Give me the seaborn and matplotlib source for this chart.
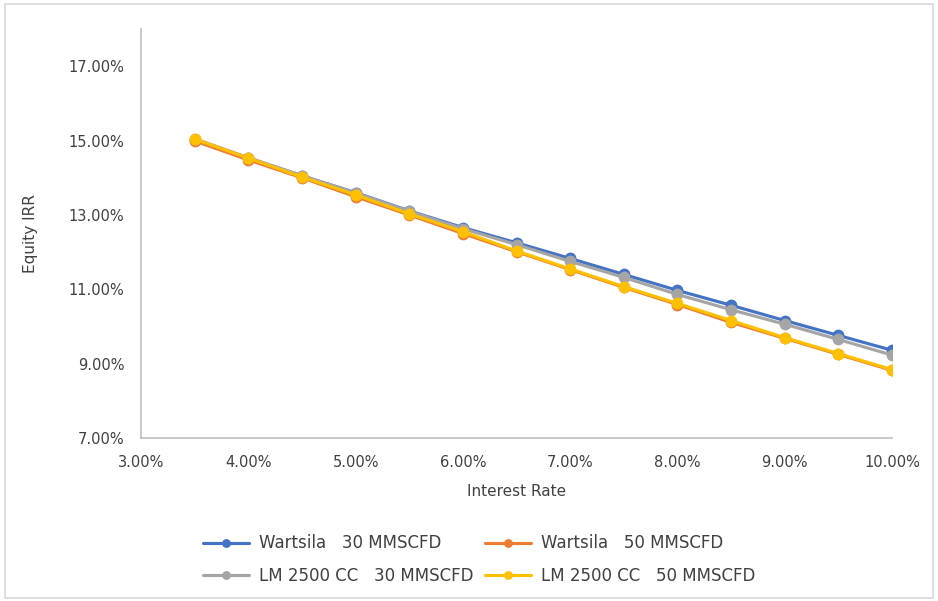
import pandas as pd
import matplotlib.pyplot as plt
import matplotlib.ticker as mtick
import seaborn as sns

rates = [0.035, 0.040, 0.045, 0.050, 0.055, 0.060, 0.065,
         0.070, 0.075, 0.080, 0.085, 0.090, 0.095, 0.100]

wartsila_30 = [15.02, 14.53, 14.05, 13.60, 13.11, 12.66, 12.25,
               11.83, 11.40, 10.97, 10.57, 10.16, 9.76, 9.36]
wartsila_50 = [14.99, 14.48, 14.00, 13.49, 13.00, 12.50, 12.01,
               11.53, 11.05, 10.59, 10.11, 9.68, 9.25, 8.82]
lm_30 = [15.05, 14.54, 14.06, 13.59, 13.10, 12.63, 12.20,
         11.75, 11.32, 10.86, 10.45, 10.06, 9.65, 9.23]
lm_50 = [15.04, 14.53, 14.02, 13.54, 13.03, 12.55, 12.03,
         11.55, 11.07, 10.62, 10.16, 9.70, 9.27, 8.84]

names = ["Wartsila   30 MMSCFD", "Wartsila   50 MMSCFD",
         "LM 2500 CC   30 MMSCFD", "LM 2500 CC   50 MMSCFD"]
colors = ["#4472C4", "#ED7D31", "#A5A5A5", "#FFC000"]

rows = []
for name, vals in zip(names, [wartsila_30, wartsila_50, lm_30, lm_50]):
    for r, v in zip(rates, vals):
        rows.append({"rate": r, "irr": v / 100, "series": name})
df = pd.DataFrame(rows)

sns.set_style("white")
plt.rcParams['font.family'] = ['DejaVu Sans']
text_col = "#404040"

fig = plt.figure(figsize=(9.38, 6.01), dpi=100)
ax = fig.add_axes([0.1503, 0.2712, 0.8007, 0.6805])

sns.lineplot(data=df, x="rate", y="irr", hue="series", hue_order=names,
             palette=colors, marker="o", markersize=8.5, markeredgewidth=0,
             linewidth=2.25, ax=ax, legend=True)

ax.set_xlim(0.03, 0.10)
ax.set_ylim(0.07, 0.18)
ax.set_xticks([0.03, 0.04, 0.05, 0.06, 0.07, 0.08, 0.09, 0.10])
ax.set_yticks([0.07, 0.09, 0.11, 0.13, 0.15, 0.17])
ax.xaxis.set_major_formatter(mtick.PercentFormatter(1.0, decimals=2))
ax.yaxis.set_major_formatter(mtick.PercentFormatter(1.0, decimals=2))
ax.tick_params(axis="both", labelsize=10.5, colors=text_col, length=0)
ax.tick_params(axis="y", pad=12)
ax.tick_params(axis="x", pad=12)

for s in ["top", "right"]:
    ax.spines[s].set_visible(False)
for s in ["left", "bottom"]:
    ax.spines[s].set_color("#bfbfbf")
    ax.spines[s].set_linewidth(1.2)

ax.set_xlabel("Interest Rate", fontsize=11, color=text_col, labelpad=10)
ax.set_ylabel("Equity IRR", fontsize=11, color=text_col, labelpad=22)

handles, labels = ax.get_legend_handles_labels()
ax.get_legend().remove()
order = [0, 2, 1, 3]
fig.legend([handles[i] for i in order], [labels[i] for i in order],
           loc="center", ncol=2, frameon=False,
           bbox_to_anchor=(0.511, 0.069), fontsize=12, labelcolor=text_col,
           handlelength=2.75, handletextpad=0.6, columnspacing=0.7,
           labelspacing=0.85, markerscale=0.75)

fig.patches.append(plt.Rectangle((0.005, 0.005), 0.99, 0.988,
                                 transform=fig.transFigure, fill=False,
                                 edgecolor="#d9d9d9", linewidth=1.2))

fig.savefig("out.png", dpi=100)
